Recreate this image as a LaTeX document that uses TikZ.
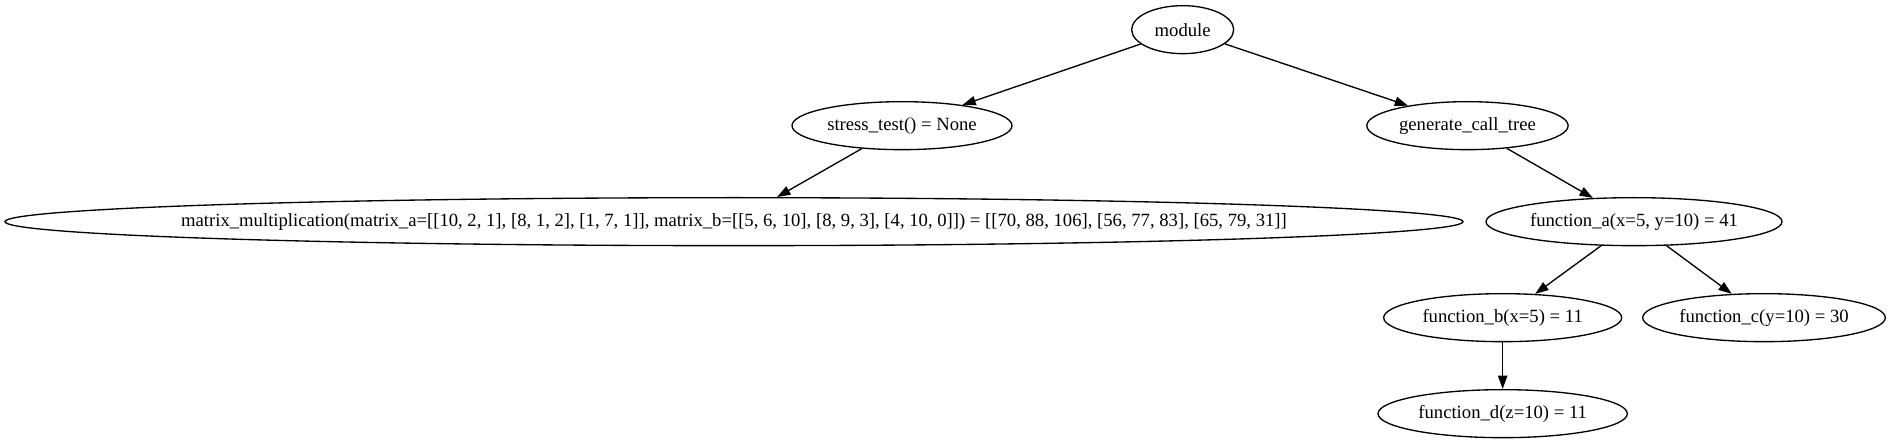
\documentclass[tikz,border=0pt]{standalone}
\usepackage{fontspec}
\setmainfont{Liberation Serif}
\usetikzlibrary{shapes.geometric,arrows.meta}

\newcommand{\calltext}[1]{\makebox[0pt]{#1}}

\begin{document}
\begin{tikzpicture}[x=1pt,y=1pt,
    call/.style={ellipse,draw,line width=1pt,inner sep=0pt,minimum height=36pt,
      font=\fontsize{14}{16}\selectfont},
    >={Triangle[length=10pt,width=7pt]}]
                    \useasboundingbox (0,0) rectangle (1419,332.25);
                    \path
                    (887,310) node[call,minimum width=76.5pt](module) {\calltext{module}}
                    (676.5,238) node[call,minimum width=165pt](stress) {\calltext{stress\_test() = None}}
                    (1100.6,238) node[call,minimum width=151pt](gen) {\calltext{generate\_call\_tree}}
                    (550.5,166) node[call,minimum width=1093.5pt](matmul) {\calltext{matrix\_multiplication(matrix\_a=[[10, 2, 1], [8, 1, 2], [1, 7, 1]], matrix\_b=[[5, 6, 10], [8, 9, 3], [4, 10, 0]]) = [[70, 88, 106], [56, 77, 83], [65, 79, 31]]}}
                    (1225.5,166) node[call,minimum width=222pt](fa) {\calltext{function\_a(x=5, y=10) = 41}}
                    (1127,94) node[call,minimum width=178.5pt](fb) {\calltext{function\_b(x=5) = 11}}
                    (1323,94) node[call,minimum width=182pt](fc) {\calltext{function\_c(y=10) = 30}}
                    (1127,22) node[call,minimum width=187pt](fd) {\calltext{function\_d(z=10) = 11}};

                    \draw[->,line width=1pt] (module) -- (stress);
                    \draw[->,line width=1pt] (module) -- (gen);
                    \draw[->,line width=1pt] (stress) -- (matmul);
                    \draw[->,line width=1pt] (gen) -- (fa);
                    \draw[->,line width=1pt] (fa) -- (fb);
                    \draw[->,line width=1pt] (fa) -- (fc);
                    \draw[->,line width=1pt] (fb) -- (fd);
                \end{tikzpicture}
\end{document}
